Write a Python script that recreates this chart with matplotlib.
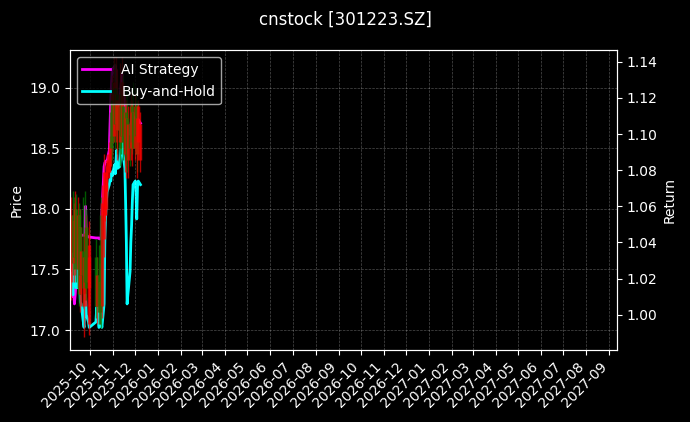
import matplotlib
matplotlib.use("Agg")
import matplotlib.pyplot as plt
import matplotlib.dates as mdates
import pandas as pd
import numpy as np

plt.style.use("dark_background")

# ---- data ----
holidays = pd.date_range("2025-10-01", "2025-10-08")
dates = pd.bdate_range("2025-09-05", "2025-12-08")
dates = dates[~dates.isin(holidays)]

opens = [17.40, 17.95, 17.55, 17.90, 17.60, 18.00, 17.50, 17.95, 17.30, 17.85,
         17.45, 17.65, 17.20, 17.60, 17.40, 17.85, 17.35, 17.05, 17.60, 17.20,
         17.45, 17.15, 17.40, 17.95, 17.20, 17.75, 17.95, 18.00, 18.15, 18.25,
         18.30, 18.35, 18.80, 18.55, 18.90, 18.60, 19.00, 18.70, 18.95, 18.65,
         18.85, 18.55, 18.95, 18.60, 18.85, 18.45, 18.80, 18.45, 18.75, 18.40,
         18.70, 18.50, 18.85, 18.50, 18.80, 18.50, 18.85, 18.60, 18.45, 18.55,
         18.40]
highs = [18.10, 18.15, 18.05, 18.10, 18.15, 18.12, 18.10, 18.05, 18.00, 18.00,
         17.80, 18.10, 17.80, 18.15, 17.95, 18.00, 17.90, 17.80, 17.75, 17.60,
         17.70, 17.55, 17.70, 18.10, 18.20, 18.45, 18.20, 18.25, 18.35, 18.45,
         18.50, 18.60, 18.95, 19.10, 19.05, 19.25, 19.20, 19.25, 19.10, 19.15,
         19.00, 19.20, 19.05, 19.25, 19.10, 18.95, 19.00, 18.90, 18.95, 18.85,
         18.90, 18.95, 19.00, 18.90, 19.05, 18.95, 19.00, 18.90, 18.85, 18.90,
         18.80]
lows = [17.25, 17.45, 17.40, 17.50, 17.45, 17.40, 17.35, 17.20, 17.15, 17.30,
        17.20, 17.20, 16.94, 17.25, 17.20, 17.25, 17.20, 16.96, 17.10, 17.05,
        17.05, 17.05, 17.05, 17.02, 17.10, 17.60, 17.90, 17.95, 18.10, 18.15,
        18.25, 18.30, 18.35, 18.45, 18.40, 18.55, 18.50, 18.55, 18.45, 18.40,
        18.35, 18.50, 18.45, 18.55, 18.40, 18.30, 18.35, 18.25, 18.30, 18.25,
        18.35, 18.40, 18.45, 18.35, 18.50, 18.40, 18.45, 18.30, 18.25, 18.40,
        18.30]
closes = [17.95, 17.55, 17.90, 17.60, 18.00, 17.50, 17.95, 17.30, 17.85, 17.45,
          17.65, 17.35, 17.60, 17.40, 17.85, 17.35, 17.70, 17.60, 17.20, 17.45,
          17.15, 17.40, 17.15, 17.20, 18.05, 18.30, 18.10, 18.20, 18.30, 18.40,
          18.45, 18.55, 18.50, 18.95, 18.55, 19.05, 18.70, 18.95, 18.65, 18.90,
          18.50, 18.95, 18.60, 19.05, 18.55, 18.80, 18.45, 18.75, 18.40, 18.70,
          18.50, 18.85, 18.55, 18.80, 18.50, 18.85, 18.60, 18.45, 18.75, 18.85,
          18.70]

ai_strategy = [1.020, 1.010, 1.014, 1.006, 1.011, 1.017, 1.034, 1.040, 1.044, 1.044,
               1.044, 1.044, 1.044, 1.044, 1.060, 1.044, 1.043, 1.043, 1.0425, 1.0425,
               1.0425, 1.042, 1.042, 1.042, 1.057, 1.082, 1.084, 1.085, 1.085, 1.085,
               1.091, 1.105, 1.119, 1.128, 1.136, 1.137, 1.138, 1.135, 1.125, 1.115,
               1.118, 1.122, 1.128, 1.133, 1.125, 1.118, 1.112, 1.105, 1.100, 1.100,
               1.100, 1.104, 1.108, 1.112, 1.110, 1.108, 1.104, 1.100, 1.106, 1.108,
               1.106]
buy_hold = [1.023, 1.011, 1.034, 1.030, 1.023, 1.015, 1.015, 1.027, 1.020, 1.007,
            1.006, 0.996, 0.993, 1.006, 1.011, 1.000, 0.996, 0.993, 0.996, 1.004,
            0.993, 1.006, 1.017, 0.996, 0.993, 1.006, 1.041, 1.054, 1.062, 1.068,
            1.072, 1.075, 1.074, 1.079, 1.077, 1.083, 1.078, 1.085, 1.091, 1.081,
            1.082, 1.087, 1.094, 1.100, 1.091, 1.081, 1.062, 1.040, 1.006, 1.011,
            1.024, 1.040, 1.049, 1.062, 1.072, 1.074, 1.068, 1.053, 1.071, 1.074,
            1.072]

title = "cnstock [301223.SZ]"

# ---- plot ----
fig = plt.figure(figsize=(6.9, 4.22), dpi=100)
ax1 = fig.add_axes([0.1014, 0.1706, 0.7926, 0.7109])
ax2 = ax1.twinx()

ax2.plot(dates, ai_strategy, color="#ff00ff", lw=2, label="AI Strategy")
ax2.plot(dates, buy_hold, color="#00ffff", lw=2, label="Buy-and-Hold")

o = np.array(opens); c = np.array(closes)
cols = np.where(c >= o, "red", "green")
ax1.vlines(dates, lows, highs, colors=cols, lw=1, alpha=0.7)
ax1.vlines(dates, opens, closes, colors=cols, lw=2.5, alpha=0.7)

ax1.set_zorder(ax2.get_zorder() + 1)
ax1.patch.set_visible(False)

ax1.set_xlim(pd.Timestamp("2025-09-04"), pd.Timestamp("2027-09-11"))
ax1.set_ylim(16.835, 19.31)
ax2.set_ylim(0.9805, 1.1465)
ax1.xaxis.set_major_locator(mdates.MonthLocator())
ax1.xaxis.set_major_formatter(mdates.DateFormatter("%Y-%m"))
plt.setp(ax1.get_xticklabels(), rotation=45, ha="right")

ax1.set_ylabel("Price")
ax2.set_ylabel("Return")
ax1.grid(True, linestyle="--", linewidth=0.5, alpha=0.3)

h, l = ax2.get_legend_handles_labels()
ax1.legend(h, l, loc="upper left", labelspacing=0.6)

fig.suptitle(title, fontsize=12, y=0.975)
fig.savefig("out.png", dpi=100)
